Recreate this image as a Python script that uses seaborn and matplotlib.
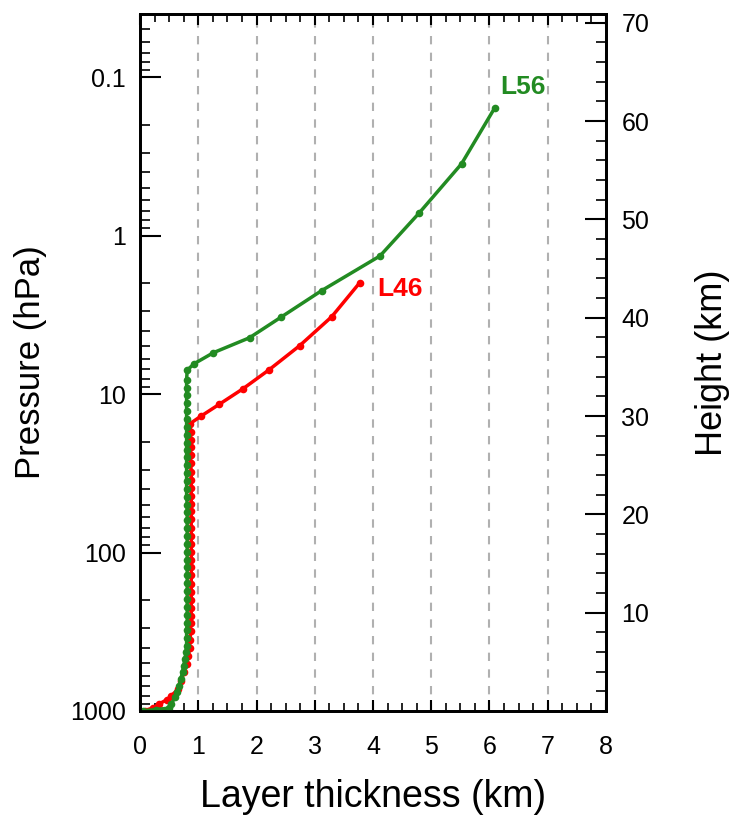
import numpy as np
import matplotlib
matplotlib.use("Agg")
import matplotlib.pyplot as plt
import seaborn as sns
from matplotlib.ticker import FixedLocator, LogLocator, MultipleLocator, FuncFormatter, NullFormatter

# L46 model levels: layer height (km) and layer thickness (km)
l46_height = [0.05, 0.32, 0.73, 1.14, 1.57, 2.25, 3.10, 3.95, 4.80,
              5.6, 6.4, 7.2, 8.1, 8.9, 9.7, 10.5, 11.3, 12.1, 12.9,
              13.8, 14.6, 15.4, 16.2, 17.0, 17.8, 18.6, 19.5, 20.3, 21.1,
              21.9, 22.7, 23.5, 24.3, 25.2, 26.0, 26.8, 27.6, 28.4,
              29.23, 30.0, 31.19, 32.78, 34.72, 37.15, 40.09, 43.54]
l46_thick = [0.08, 0.23, 0.33, 0.46, 0.54, 0.66, 0.71, 0.75, 0.80,
             0.83, 0.85, 0.86, 0.87, 0.87, 0.88, 0.88, 0.88, 0.88, 0.88,
             0.88, 0.88, 0.88, 0.88, 0.88, 0.88, 0.88, 0.88, 0.88, 0.88,
             0.88, 0.88, 0.88, 0.88, 0.87, 0.87, 0.87, 0.87, 0.87,
             0.86, 1.05, 1.36, 1.77, 2.22, 2.74, 3.29, 3.77]

# L56 model levels
l56_height = [0.03, 0.15, 0.29, 0.73, 1.41, 1.98, 2.59, 3.27, 3.95, 4.62,
              5.30, 5.98, 6.65,
              7.4, 8.2, 9.0, 9.8, 10.6, 11.4, 12.2, 13.0, 13.8, 14.6,
              15.4, 16.2, 17.0, 17.8, 18.6, 19.4, 20.2, 21.0, 21.8, 22.6,
              23.4, 24.2, 25.0, 25.8, 26.5, 27.3, 28.1, 28.9, 29.7, 30.5,
              31.3, 32.1, 32.9, 33.7,
              34.67, 35.32, 36.44, 37.96, 40.05, 42.76, 46.28, 50.63, 55.65, 61.34]
l56_thick = [0.06, 0.27, 0.49, 0.54, 0.60, 0.64, 0.67, 0.70, 0.73, 0.75,
             0.77, 0.79, 0.80,
             0.80, 0.80, 0.81, 0.81, 0.81, 0.81, 0.81, 0.81, 0.81, 0.81,
             0.81, 0.81, 0.81, 0.81, 0.81, 0.81, 0.81, 0.81, 0.80, 0.80,
             0.80, 0.80, 0.80, 0.80, 0.80, 0.80, 0.80, 0.80, 0.80, 0.80,
             0.80, 0.80, 0.80, 0.80,
             0.81, 0.93, 1.26, 1.88, 2.42, 3.12, 4.12, 4.79, 5.52, 6.09]

pressure_ticks = [1000, 100, 10, 1, 0.1]
height_ticks = [10, 20, 30, 40, 50, 60, 70]
thick_ticks = [0, 1, 2, 3, 4, 5, 6, 7, 8]

green = "#228B22"
red = "#FF0000"

sns.set_style("ticks")
plt.rcParams["font.family"] = ["Liberation Sans", "DejaVu Sans"]
plt.rcParams.update({"text.color": "black", "axes.labelcolor": "black",
                     "xtick.color": "black", "ytick.color": "black"})

fig = plt.figure(figsize=(7.31, 8.16), dpi=100)
ax = fig.add_axes([140 / 731, 105 / 816, 466 / 731, 697 / 816])

# pressure axis (log) on the left, height axis on the right (scale height 7 km)
p_bot, p_top = 1000, 0.04
ax.set_yscale("log")
ax.set_ylim(p_bot, p_top)
ax.set_xlim(0, 8)
axh = ax.twinx()
axh.set_ylim(0, 7.0 * np.log(p_bot / p_top))

sns.lineplot(x=l46_thick, y=l46_height, ax=axh, color=red, marker="o",
             markersize=5.5, markeredgewidth=0, linewidth=2.5,
             sort=False, estimator=None)
sns.lineplot(x=l56_thick, y=l56_height, ax=axh, color=green, marker="o",
             markersize=5.5, markeredgewidth=0, linewidth=2.5,
             sort=False, estimator=None)

axh.text(6.19, 63.5, "L56", color=green, fontsize=19, fontweight="bold",
         ha="left", va="center")
axh.text(4.07, 42.9, "L46", color=red, fontsize=19, fontweight="bold",
         ha="left", va="center")

# ticks
ax.xaxis.set_major_locator(FixedLocator(thick_ticks))
ax.xaxis.set_minor_locator(MultipleLocator(0.25))
ax.yaxis.set_major_locator(FixedLocator(pressure_ticks))
ax.yaxis.set_minor_locator(LogLocator(base=10, subs=np.arange(2, 10), numticks=20))
ax.yaxis.set_major_formatter(FuncFormatter(lambda v, _: f"{v:g}"))
ax.yaxis.set_minor_formatter(NullFormatter())
axh.yaxis.set_major_locator(FixedLocator(height_ticks))
axh.yaxis.set_minor_locator(MultipleLocator(2))

ax.tick_params(axis="x", which="both", direction="in", top=True, bottom=True,
               labelsize=18, pad=17, width=1.5)
ax.tick_params(axis="x", which="major", length=8)
ax.tick_params(axis="x", which="minor", length=6, width=1.2)
ax.tick_params(axis="y", which="both", direction="in", left=True, right=False,
               labelsize=18, pad=10, width=1.5)
ax.tick_params(axis="y", which="major", length=15)
ax.tick_params(axis="y", which="minor", length=7, width=1.2)
axh.tick_params(axis="y", which="both", direction="in", left=False, right=True,
                labelsize=18, pad=11, width=1.5)
axh.tick_params(axis="y", which="major", length=15)
axh.tick_params(axis="y", which="minor", length=7, width=1.2)

ax.grid(axis="x", which="major", color="#b0b0b0", linestyle=(0, (4, 4)),
        linewidth=1.5)
ax.grid(axis="y", which="both", visible=False)

for a in (ax, axh):
    for s in a.spines.values():
        s.set_linewidth(2)
        s.set_color("black")

ax.set_xlabel("Layer thickness (km)", fontsize=27)
ax.set_ylabel("Pressure (hPa)", fontsize=25)
axh.set_ylabel("Height (km)", fontsize=26, rotation=90)
ax.xaxis.set_label_coords(0.5, -0.098)
ax.yaxis.set_label_coords(-0.20, 0.5)
axh.yaxis.set_label_coords(1.19, 0.5)

fig.savefig("out.png", dpi=100)
